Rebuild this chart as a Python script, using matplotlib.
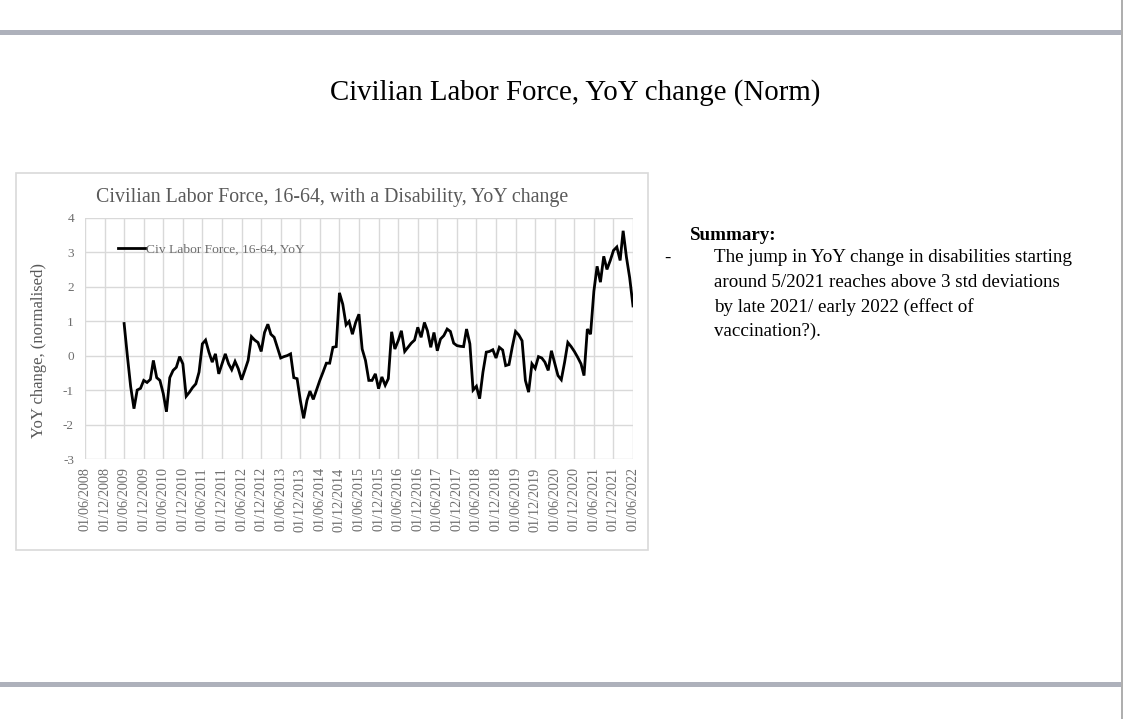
import matplotlib
matplotlib.use("Agg")
import matplotlib.pyplot as plt
from matplotlib.lines import Line2D
from matplotlib.patches import Rectangle
import pandas as pd

# ---------------- data ----------------
slide_title = "Civilian Labor Force, YoY change (Norm)"
chart_title = "Civilian Labor Force, 16-64, with a Disability, YoY change"
series_name = "Civ Labor Force, 16-64, YoY"
y_label = "YoY change, (normalised)"

start_month = "2009-06-01"
values = [
    # 2009-06 .. 2009-12
    0.93, 0.0, -0.9, -1.54, -1.0, -0.95, -0.72,
    # 2010
    -0.78, -0.69, -0.14, -0.64, -0.72, -1.1, -1.63, -0.64, -0.43, -0.34, -0.03, -0.24,
    # 2011
    -1.18, -1.06, -0.93, -0.82, -0.48, 0.34, 0.45, 0.1, -0.19, 0.05, -0.53, -0.24,
    # 2012
    0.05, -0.24, -0.41, -0.17, -0.38, -0.70, -0.43, -0.14, 0.55, 0.45, 0.38, 0.12,
    # 2013
    0.67, 0.91, 0.62, 0.53, 0.24, -0.07, -0.03, 0.0, 0.05, -0.64, -0.67, -1.30,
    # 2014
    -1.82, -1.3, -1.03, -1.27, -1.0, -0.72, -0.48, -0.22, -0.22, 0.24, 0.26, 1.82,
    # 2015
    1.49, 0.89, 0.99, 0.62, 0.96, 1.2, 0.19, -0.14, -0.72, -0.72, -0.53, -0.96,
    # 2016
    -0.62, -0.86, -0.67, 0.69, 0.19, 0.43, 0.72, 0.12, 0.24, 0.36, 0.45, 0.82,
    # 2017
    0.53, 0.96, 0.72, 0.24, 0.67, 0.14, 0.48, 0.58, 0.77, 0.70, 0.36, 0.29,
    # 2018
    0.27, 0.26, 0.77, 0.34, -1.0, -0.89, -1.25, -0.48, 0.1, 0.12, 0.17, -0.07,
    # 2019
    0.24, 0.16, -0.29, -0.26, 0.24, 0.70, 0.60, 0.43, -0.72, -1.06, -0.24, -0.37,
    # 2020
    -0.03, -0.07, -0.19, -0.43, 0.14, -0.22, -0.58, -0.70, -0.19, 0.38, 0.26, 0.12,
    # 2021
    -0.05, -0.24, -0.58, 0.77, 0.62, 1.87, 2.59, 2.13, 2.88, 2.50, 2.76, 3.05,
    # 2022-01 .. 2022-06
    3.15, 2.76, 3.62, 2.85, 2.26, 1.44,
]

axis_start = "2008-06-01"
axis_end = "2022-06-01"
y_ticks = [-3, -2, -1, 0, 1, 2, 3, 4]
y_tick_labels = ["-3", "-2", "-1", "0", "1", "2", "3", "4"]

summary_head = "Summary:"
summary_lines = [
    "The jump in YoY change in disabilities starting",
    "around 5/2021 reaches above 3 std deviations",
    "by late 2021/ early 2022 (effect of",
    "vaccination?).",
]

# ---------------- figure ----------------
W, H = 1125, 719
fig = plt.figure(figsize=(W / 100, H / 100), dpi=100)
fig.patch.set_facecolor("white")

serif = ["Liberation Serif", "DejaVu Serif"]
grey_txt = "#595959"
tick_txt = "#6e6e6e"
grid_c = "#d9d9d9"


def fx(px):
    return px / W


def fy(py):
    return 1 - py / H


# slide decorations
fig.add_artist(Rectangle((0, fy(34.5)), fx(1121), (34.5 - 29.5) / H,
                         transform=fig.transFigure, color="#aeb1bb", lw=0))
fig.add_artist(Rectangle((0, fy(687)), fx(1121), (687 - 681.5) / H,
                         transform=fig.transFigure, color="#aeb1bb", lw=0))
fig.add_artist(Line2D([fx(1121.5), fx(1121.5)], [0, 1], transform=fig.transFigure,
                      color="#a0a0a0", lw=1.2))

fig.text(fx(575), fy(93), slide_title, ha="center", va="center",
         family=serif, fontsize=20.8, color="black")

# chart box
fig.add_artist(Rectangle((fx(15.5), fy(549.5)), fx(648 - 15.5), (549.5 - 173) / H,
                         transform=fig.transFigure, fill=False,
                         edgecolor="#d9d9d9", lw=1.2))
fig.text(fx(332), fy(197.5), chart_title, ha="center", va="center",
         family=serif, fontsize=14.3, color=grey_txt)

# axes
ax = fig.add_axes([fx(85), fy(459), fx(633 - 85), (459 - 217.7) / H])
months = pd.date_range(start_month, periods=len(values), freq="MS")
ax.plot(months, values, color="black", lw=2.0, label=series_name,
        solid_joinstyle="miter")

ax.set_xlim(pd.Timestamp(axis_start), pd.Timestamp(axis_end))
ax.set_ylim(-3, 4)
ticks = pd.date_range(axis_start, axis_end, freq="6MS")
ax.set_xticks(ticks)
ax.set_xticklabels([t.strftime("%d/%m/%Y") for t in ticks], rotation=90,
                   family=serif, fontsize=10.2, color=tick_txt)
ax.set_yticks(y_ticks)
ax.set_yticklabels(y_tick_labels, family=serif, fontsize=9.5, color=tick_txt)
ax.tick_params(length=0, pad=8)
ax.tick_params(axis="x", pad=6)
ax.grid(True, color=grid_c, lw=1.0)
ax.set_axisbelow(True)
for s in ax.spines.values():
    s.set_visible(False)
ax.set_ylabel(y_label, family=serif, fontsize=12, color=grey_txt)
ax.yaxis.set_label_coords(-0.069, 0.45)

leg = ax.legend(loc="upper left", bbox_to_anchor=(0.05, 0.915), frameon=False,
                handlelength=2.1, handletextpad=0.0, borderaxespad=0,
                prop={"family": serif, "size": 9.7})
for t in leg.get_texts():
    t.set_color(tick_txt)

# summary text
fig.text(fx(690), fy(235), summary_head, ha="left", va="center",
         family=serif, fontsize=13.7, fontweight="bold", color="black")
fig.text(fx(664), fy(258), "-", ha="left", va="center",
         family=serif, fontsize=13.7, color="black")
for i, line in enumerate(summary_lines):
    fig.text(fx(714), fy(258 + i * 24.3), line, ha="left", va="center",
             family=serif, fontsize=13.7, color="black")

fig.savefig("out.png", dpi=100, facecolor="white")
